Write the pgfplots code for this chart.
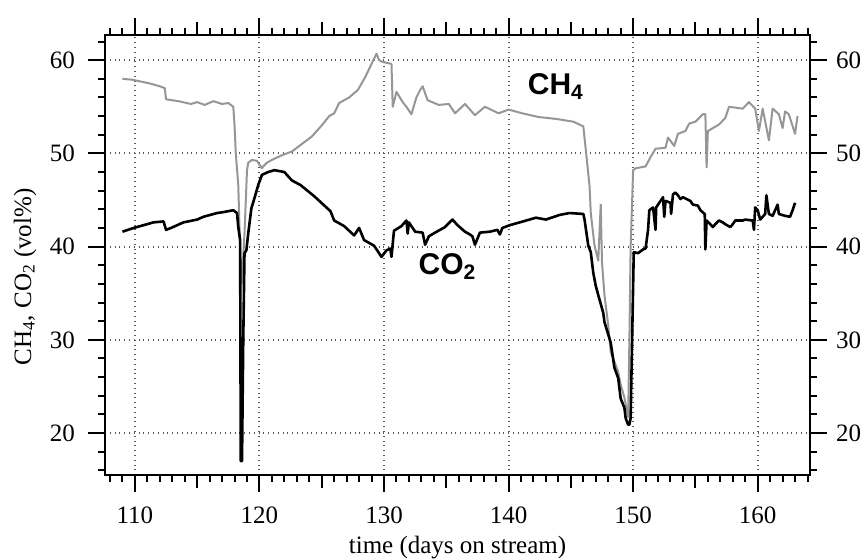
\documentclass[border=0pt]{standalone}
\usepackage{fontspec}
\setmainfont{Liberation Serif}
\newfontfamily\labfont{Liberation Sans}
\usepackage{pgfplots}
\pgfplotsset{compat=1.18}
\definecolor{chgray}{RGB}{150,150,150}
\begin{document}
\begin{tikzpicture}
\useasboundingbox (-52.5pt,-42.5pt) rectangle (378.5pt,237.5pt);
\pgfplotsset{
  common/.style={
    scale only axis, width=352.5pt, height=220pt,
    xmin=107.6, xmax=164.2, ymin=15.5, ymax=62.7,
    axis line style={line width=1.1pt},
    tick align=outside,
    major tick length=8.5pt, minor tick length=3.5pt,
    every tick/.style={line width=1pt, black},
    /pgf/number format/assume math mode=true,
    tick label style={font=\fontsize{12.5}{14}\selectfont},
  }
}
\begin{axis}[common,
  xtick={110,120,...,160}, ytick={20,30,...,60},
  minor xtick={108,109,...,164}, minor ytick={16,18,...,62},
  xtick pos=both, xticklabel pos=lower,
  ytick pos=left,
  extra x ticks={115,125,...,165},
  extra x tick labels={},
  extra x tick style={major tick length=6.5pt, grid=none},
  grid=major,
  major grid style={dotted, line width=1pt, black!65},
  xticklabel style={yshift=-4pt},
  yticklabel style={xshift=-3pt},
  xlabel={time (days on stream)},
  ylabel={CH\textsubscript{4}, CO\textsubscript{2} (vol\%)},
  label style={font=\fontsize{12.5}{14}\selectfont},
  xlabel style={at={(axis description cs:0.5,0)}, anchor=center, yshift=-36.5pt},
  ylabel style={at={(axis description cs:0,0.45)}, anchor=center, yshift=40pt},
]
\addplot[chgray, line width=1pt, line join=round] coordinates {
(109.0,58.0) (109.8,57.9) (110.5,57.7) (111.2,57.5) (112.0,57.2) (112.4,57.0) (112.5,55.8) (113.5,55.6) (114.5,55.3) (115.0,55.5) (115.6,55.2) (116.3,55.6) (117.0,55.3) (117.5,55.4) (117.9,55.0) (118.0,53.0) (118.1,50.0) (118.3,46.6) (118.4,42.0) (118.5,38.0) (118.6,36.0) (118.7,39.0) (118.8,41.4) (119.0,48.2) (119.1,49.0) (119.4,49.3) (119.8,49.2) (120.0,48.8) (120.2,48.4) (120.3,48.6) (120.6,49.0) (121.0,49.3) (121.8,49.8) (122.6,50.2) (123.4,51.0) (124.2,51.8) (125.0,53.0) (125.6,54.0) (126.0,54.3) (126.4,55.4) (127.2,56.0) (127.9,56.8) (128.5,58.2) (129.0,59.6) (129.4,60.7) (129.6,60.0) (129.9,59.8) (130.6,59.6) (130.7,55.0) (131.0,56.6) (131.5,55.5) (131.8,55.0) (132.2,54.2) (132.6,56.0) (132.9,56.8) (133.1,57.2) (133.5,55.7) (134.4,55.2) (135.2,55.3) (135.7,54.3) (136.5,55.3) (137.3,54.1) (138.1,55.0) (139.2,54.3) (140.0,54.7) (141.1,54.3) (142.4,53.9) (143.8,53.7) (145.2,53.4) (146.0,52.9) (146.2,50.4) (146.5,46.5) (146.6,43.6) (146.9,40.1) (147.2,38.5) (147.4,44.5) (147.5,38.3) (147.7,34.8) (148.0,31.6) (148.2,28.7) (148.8,26.6) (149.0,25.2) (149.3,23.8) (149.6,21.7) (149.7,30.0) (149.8,40.0) (150.0,48.2) (150.2,48.4) (151.0,48.6) (151.4,49.6) (151.8,50.5) (152.6,50.6) (152.8,51.7) (153.3,50.8) (153.6,52.1) (154.2,52.4) (154.5,53.2) (155.0,53.4) (155.6,54.2) (155.8,54.2) (155.9,48.5) (156.0,52.4) (156.9,53.1) (157.4,53.8) (157.7,55.0) (158.8,54.8) (159.3,55.5) (159.8,54.8) (160.1,52.4) (160.4,54.8) (160.9,51.4) (161.2,54.8) (161.7,54.2) (162.0,52.7) (162.2,54.5) (162.5,54.2) (163.0,52.1) (163.2,54.0)
};
\addplot[black, line width=1.3pt, line join=round] coordinates {
(109.0,41.6) (109.9,42.0) (111.5,42.6) (112.3,42.7) (112.5,41.8) (112.9,42.0) (113.9,42.6) (115.0,42.9) (115.5,43.2) (116.6,43.6) (117.1,43.7) (117.9,43.9) (118.2,43.6) (118.3,42.1) (118.45,40.7) (118.5,17.0) (118.6,17.0) (118.7,30.0) (118.8,39.3) (118.95,39.6) (119.1,41.4) (119.35,44.1) (119.6,45.2) (119.9,46.6) (120.2,47.7) (120.7,48.0) (121.2,48.2) (122.0,48.0) (122.6,47.1) (123.3,46.6) (124.4,45.4) (125.7,43.8) (126.0,42.8) (126.8,42.2) (127.6,41.2) (128.0,42.0) (128.4,40.7) (129.2,40.1) (129.8,38.9) (130.2,39.6) (130.5,39.8) (130.6,38.9) (130.8,41.7) (131.4,42.2) (131.8,42.8) (131.9,41.4) (132.0,42.6) (132.5,41.6) (133.1,41.5) (133.3,40.2) (133.6,41.1) (134.1,41.5) (134.9,42.1) (135.5,42.9) (135.9,42.3) (136.5,41.6) (136.9,41.3) (137.1,41.1) (137.3,40.2) (137.7,41.5) (138.5,41.6) (139.1,41.8) (139.3,41.3) (139.5,42.0) (140.1,42.3) (140.9,42.6) (142.2,43.1) (143.0,42.9) (144.1,43.4) (144.9,43.6) (146.0,43.5) (146.1,42.9) (146.4,40.1) (146.6,39.4) (146.8,37.2) (147.0,35.8) (147.2,34.8) (147.6,32.9) (147.7,31.9) (148.2,29.7) (148.5,27.0) (148.8,25.9) (149.0,23.7) (149.3,22.7) (149.4,21.6) (149.6,20.9) (149.7,20.9) (149.8,21.6) (149.9,28.7) (150.0,35.8) (150.05,39.4) (150.4,39.3) (150.8,39.7) (151.0,39.8) (151.2,41.8) (151.3,43.9) (151.6,44.2) (151.8,41.8) (151.85,44.2) (152.2,44.9) (152.4,45.3) (152.5,43.2) (152.6,44.9) (153.0,44.7) (153.05,43.5) (153.2,45.6) (153.4,45.8) (153.6,45.5) (153.8,45.1) (154.0,45.3) (154.6,44.9) (154.8,44.5) (155.2,44.4) (155.4,43.9) (155.75,43.5) (155.8,39.7) (155.9,42.8) (156.2,42.4) (156.4,42.1) (156.6,42.4) (156.9,42.8) (157.2,42.6) (157.4,42.4) (157.8,42.1) (158.0,42.4) (158.2,42.8) (158.8,42.8) (159.0,42.9) (159.6,42.8) (159.7,41.8) (159.8,44.2) (160.0,43.9) (160.2,42.9) (160.6,43.5) (160.7,45.5) (160.9,43.5) (161.2,43.3) (161.6,44.5) (161.7,43.5) (162.2,43.3) (162.6,43.2) (162.8,43.9) (163.0,44.7)
};
\node[font=\labfont\bfseries\fontsize{15}{17}\selectfont] at (axis cs:143.8,57.2) {CH\textsubscript{4}};
\node[font=\labfont\bfseries\fontsize{15}{17}\selectfont] at (axis cs:135.1,37.9) {CO\textsubscript{2}};
\end{axis}
\begin{axis}[common,
  axis x line=none,
  axis y line*=right,
  ytick={20,30,...,60}, minor ytick={16,18,...,62},
  yticklabel pos=right,
  yticklabel style={xshift=1pt},
]
\end{axis}
\end{tikzpicture}
\end{document}
